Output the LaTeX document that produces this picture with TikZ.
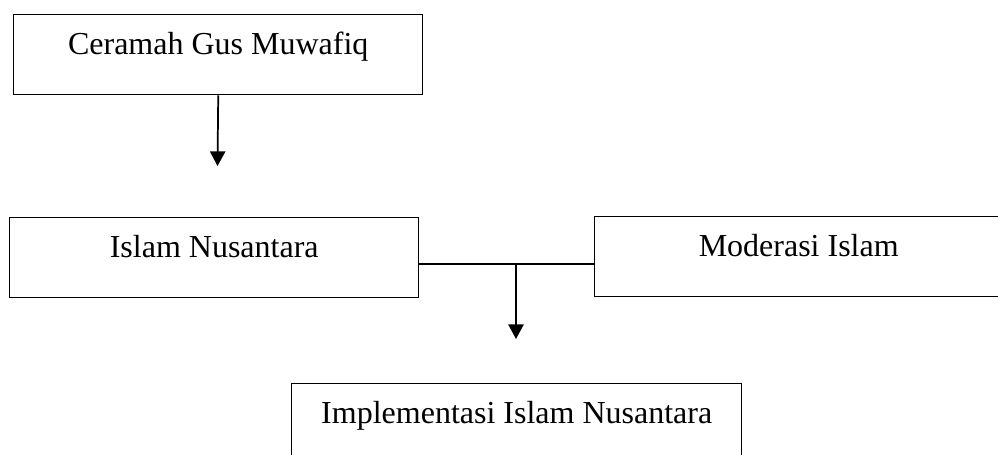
\documentclass[tikz,border=0pt]{standalone}
\usepackage{fontspec}
\setmainfont{Liberation Serif}
\usetikzlibrary{arrows.meta}
\begin{document}
\begin{tikzpicture}[
x=0.75pt,y=-0.75pt,
kotak/.style={draw,line width=1.1pt,anchor=north west,minimum width=#1,
  inner xsep=0pt,inner ysep=14.25pt,text height=15.75pt,text depth=15.75pt,
  font=\fontsize{24}{28}\selectfont},
panah/.style={line width=1.3pt,-{Triangle[width=11.5pt,length=11pt]}}
]
\useasboundingbox (0,0) rectangle (998,454);
\node[kotak=306.75pt] (ceramah) at (13,14) {Ceramah Gus Muwafiq};
\node[kotak=306.75pt] (nusantara) at (9,217) {Islam Nusantara};
\node[kotak=306pt] (moderasi) at (594,216) {Moderasi Islam};
\node[kotak=337.5pt] (implementasi) at (291,383) {Implementasi Islam Nusantara};
\coordinate (ujung1) at (217.5,166);
\coordinate (tengah) at (516,264);
\coordinate (ujung2) at (516,339);
\draw[panah] (ceramah.south) -- (ujung1);
\draw[line width=1.1pt] (nusantara.east |- tengah) -- (moderasi.west |- tengah);
\draw[panah] (tengah) -- (ujung2);
\end{tikzpicture}
\end{document}
